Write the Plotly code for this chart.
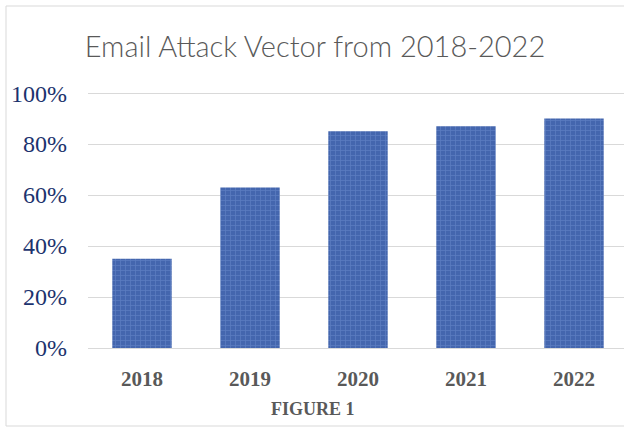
import plotly.graph_objects as go

years = ["2018", "2019", "2020", "2021", "2022"]
share = [0.35, 0.63, 0.85, 0.87, 0.90]
y_ticks = [0, 0.2, 0.4, 0.6, 0.8, 1.0]
y_tick_labels = ["0%", "20%", "40%", "60%", "80%", "100%"]

W, H = 624, 428
L, R, T, B = 88, 0, 88, 80

fig = go.Figure()
fig.add_trace(go.Bar(
    x=years, y=share,
    width=0.55,
    marker=dict(
        color="#4466ae",
        line=dict(width=0),
        pattern=dict(shape="+", fgcolor="#6f8fd0", size=5, solidity=0.3),
    ),
    hoverinfo="skip",
))

fig.update_layout(
    width=W, height=H,
    margin=dict(l=L, r=R, t=T, b=B),
    paper_bgcolor="white",
    plot_bgcolor="white",
    showlegend=False,
    title=dict(
        text="Email Attack Vector from 2018-2022",
        x=315 / W, xanchor="center",
        y=1 - 47 / H, yanchor="middle",
        font=dict(family="Lato", size=29, color="#595959", weight=300),
    ),
    xaxis=dict(
        type="category",
        range=[-0.5, 4.463],
        showgrid=False,
        showline=False,
        zeroline=False,
        ticks="",
        ticklabelstandoff=16,
        tickfont=dict(family="Liberation Serif", size=21, color="#595959", weight="bold"),
        fixedrange=True,
    ),
    yaxis=dict(
        range=[0, 1.02],
        tickvals=y_ticks,
        ticktext=y_tick_labels,
        showgrid=True,
        gridcolor="#d9d9d9",
        gridwidth=1,
        zeroline=True,
        zerolinecolor="#d9d9d9",
        zerolinewidth=1,
        showline=False,
        ticks="",
        ticklabelstandoff=20,
        tickfont=dict(family="Liberation Serif", size=24, color="#1c336e"),
        fixedrange=True,
    ),
    annotations=[dict(
        text="<b>FIGURE 1</b>",
        xref="paper", yref="paper",
        x=(313 - L) / (W - L - R), y=(348 - 409) / (H - T - B),
        xanchor="center", yanchor="middle",
        showarrow=False,
        font=dict(family="Liberation Serif", size=18, color="#595959"),
    )],
    shapes=[dict(
        type="rect", xref="paper", yref="paper",
        x0=(6 - L) / (W - L - R), x1=(W + 5 - L) / (W - L - R),
        y0=(348 - 426) / (H - T - B), y1=(348 - 6) / (H - T - B),
        line=dict(color="#d9d9d9", width=1),
        fillcolor="rgba(0,0,0,0)",
        layer="below",
    )],
)

fig.write_html(
    "out.html",
    config={"displayModeBar": False, "staticPlot": True},
    post_script="document.body.style.margin='0';document.body.style.overflow='hidden';",
)
